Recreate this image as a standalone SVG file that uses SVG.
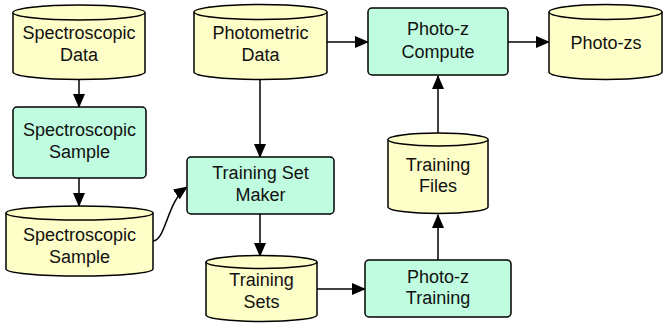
<svg xmlns="http://www.w3.org/2000/svg" width="664" height="325" viewBox="0 0 664 325">
  <style>
    .store { fill: #fefec8; stroke: #000; stroke-width: 1.5; }
    .proc { fill: #c0fcdf; stroke: #000; stroke-width: 1.5; }
    .lbl { font-family: "Liberation Sans", Arial, sans-serif; font-size: 18px; fill: #111; text-anchor: middle; }
    .edge { fill: none; stroke: #000; stroke-width: 1.5; }
  </style>
  <defs>
    <marker id="arrow" markerUnits="userSpaceOnUse" markerWidth="14" markerHeight="12" viewBox="0 0 14 12" refX="13" refY="6" orient="auto">
      <path d="M0,0 L14,6 L0,12 Z" fill="#000"/>
    </marker>
  </defs>

  <rect width="664" height="325" fill="#fff"/>

  <g id="connectors">
    <line class="edge" x1="79" y1="80" x2="79" y2="107" marker-end="url(#arrow)"/>
    <line class="edge" x1="79" y1="178" x2="79" y2="206" marker-end="url(#arrow)"/>
    <path class="edge" d="M153,241 C166,240 167,201 187,187" marker-end="url(#arrow)"/>
    <line class="edge" x1="260" y1="80" x2="260" y2="157" marker-end="url(#arrow)"/>
    <line class="edge" x1="327" y1="42" x2="368" y2="42" marker-end="url(#arrow)"/>
    <line class="edge" x1="260" y1="214" x2="260" y2="256" marker-end="url(#arrow)"/>
    <line class="edge" x1="317" y1="289" x2="365" y2="289" marker-end="url(#arrow)"/>
    <line class="edge" x1="438" y1="260" x2="438" y2="215" marker-end="url(#arrow)"/>
    <line class="edge" x1="438" y1="133" x2="438" y2="76" marker-end="url(#arrow)"/>
    <line class="edge" x1="508" y1="42" x2="549" y2="42" marker-end="url(#arrow)"/>
  </g>

  <g id="spectroscopic-data">
    <path class="store" d="M13,12.5 V72 A66,7.5 0 0 0 145,72 V12.5 A66,7.5 0 0 0 13,12.5 Z"/>
    <path class="store" d="M13,12.5 A66,7.5 0 0 0 145,12.5" fill="none"/>
    <text class="lbl" x="79" y="39">Spectroscopic</text>
    <text class="lbl" x="79" y="61">Data</text>
  </g>

  <g id="spectroscopic-sample-proc">
    <rect class="proc" x="13" y="107" width="133" height="71" rx="4"/>
    <text class="lbl" x="79.5" y="136">Spectroscopic</text>
    <text class="lbl" x="79.5" y="158">Sample</text>
  </g>

  <g id="spectroscopic-sample-store">
    <path class="store" d="M6,213 V269 A73.5,7 0 0 0 153,269 V213 A73.5,7 0 0 0 6,213 Z"/>
    <path class="store" d="M6,213 A73.5,7 0 0 0 153,213" fill="none"/>
    <text class="lbl" x="79.5" y="241">Spectroscopic</text>
    <text class="lbl" x="79.5" y="263">Sample</text>
  </g>

  <g id="photometric-data">
    <path class="store" d="M194,12 V72 A66.5,7.5 0 0 0 327,72 V12 A66.5,7.5 0 0 0 194,12 Z"/>
    <path class="store" d="M194,12 A66.5,7.5 0 0 0 327,12" fill="none"/>
    <text class="lbl" x="260.5" y="39">Photometric</text>
    <text class="lbl" x="260.5" y="61">Data</text>
  </g>

  <g id="training-set-maker">
    <rect class="proc" x="187" y="157" width="147" height="57" rx="4"/>
    <text class="lbl" x="260.5" y="179">Training Set</text>
    <text class="lbl" x="260.5" y="201">Maker</text>
  </g>

  <g id="training-sets">
    <path class="store" d="M206,262 V315 A55.5,6.5 0 0 0 317,315 V262 A55.5,6.5 0 0 0 206,262 Z"/>
    <path class="store" d="M206,262 A55.5,6.5 0 0 0 317,262" fill="none"/>
    <text class="lbl" x="261.5" y="286">Training</text>
    <text class="lbl" x="261.5" y="308">Sets</text>
  </g>

  <g id="photoz-training">
    <rect class="proc" x="365" y="260" width="146" height="57" rx="4"/>
    <text class="lbl" x="438" y="283">Photo-z</text>
    <text class="lbl" x="438" y="304">Training</text>
  </g>

  <g id="training-files">
    <path class="store" d="M388,139.5 V207 A50,6.5 0 0 0 488,207 V139.5 A50,6.5 0 0 0 388,139.5 Z"/>
    <path class="store" d="M388,139.5 A50,6.5 0 0 0 488,139.5" fill="none"/>
    <text class="lbl" x="438" y="171">Training</text>
    <text class="lbl" x="438" y="192">Files</text>
  </g>

  <g id="photoz-compute">
    <rect class="proc" x="368" y="8" width="140" height="67" rx="4"/>
    <text class="lbl" x="438" y="35">Photo-z</text>
    <text class="lbl" x="438" y="58">Compute</text>
  </g>

  <g id="photo-zs">
    <path class="store" d="M549,12 V72 A56.5,7.5 0 0 0 662,72 V12 A56.5,7.5 0 0 0 549,12 Z"/>
    <path class="store" d="M549,12 A56.5,7.5 0 0 0 662,12" fill="none"/>
    <text class="lbl" x="606" y="49">Photo-zs</text>
  </g>
</svg>
